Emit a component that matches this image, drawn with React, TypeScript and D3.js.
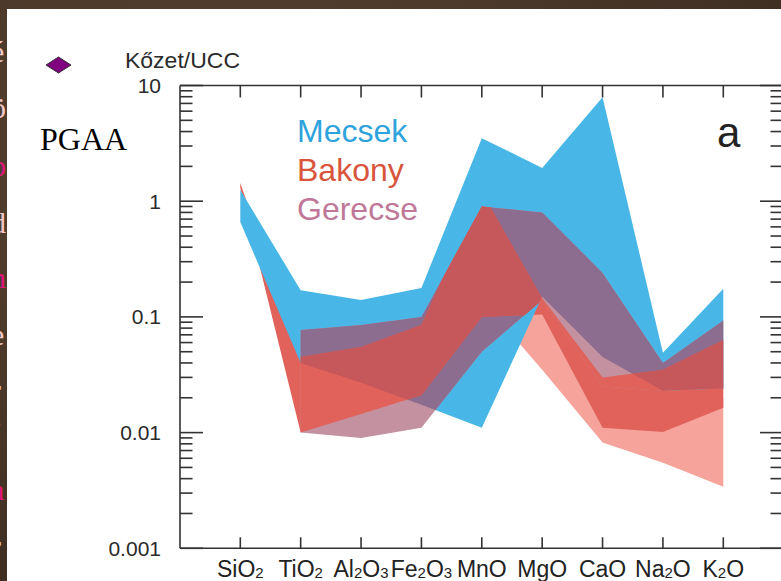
import React from "react";
import * as d3 from "d3";

const categories = ["SiO2", "TiO2", "Al2O3", "Fe2O3", "MnO", "MgO", "CaO", "Na2O", "K2O"];

// Mecsek band (blue)
const mecsekMax = [1.25, 0.17, 0.14, 0.178, 3.5, 1.94, 7.9, 0.049, 0.175];
const mecsekMin = [0.66, 0.04, 0.027, 0.0174, 0.011, 0.15, 0.045, 0.023, 0.024];
// Bakony band (red)
const bakonyMax = [1.44, 0.045, 0.055, 0.085, 1.2, 0.145, 0.03, 0.035, 0.063];
const bakonyMin = [1.3, 0.01, 0.0145, 0.021, 0.1, 0.105, 0.011, 0.0101, 0.0164];
// Bakony light band (salmon)
const bakony2Max: (number | null)[] = [null, null, null, null, 0.5, 0.14, 0.02, 0.015, 0.02];
const bakony2Min: (number | null)[] = [null, null, null, null, 0.14, 0.035, 0.0082, 0.0055, 0.0034];
// Gerecse band (purple)
const gerecseMax: (number | null)[] = [null, 0.077, 0.085, 0.1, 0.9, 0.8, 0.24, 0.04, 0.093];
const gerecseMin: (number | null)[] = [null, 0.01, 0.009, 0.011, 0.05, 0.14, 0.025, 0.023, 0.024];

const yTicks = [0.001, 0.01, 0.1, 1, 10];
const yTickLabels = ["0.001", "0.01", "0.1", "1", "10"];
const legendNames = ["Mecsek", "Bakony", "Gerecse"];
const legendColors = ["#2ea3dc", "#d8553c", "#bf7897"];
const sideLetters = [
  { t: "é", y: 62, c: "#f3c9c6" },
  { t: "ö", y: 118, c: "#f3c9c6" },
  { t: "b", y: 176, c: "#e0157a" },
  { t: "d", y: 233, c: "#f3c9c6" },
  { t: "n", y: 288, c: "#e0157a" },
  { t: "e", y: 345, c: "#f3c9c6" },
  { t: "r", y: 400, c: "#f3c9c6" },
  { t: "•", y: 435, c: "#f3c9c6" },
  { t: "a", y: 500, c: "#e0157a" },
  { t: "r", y: 556, c: "#f3c9c6" },
];

const W = 781;
const H = 581;
const left = 180;
const right = 783;
const top = 85.5;
const bottom = 548.3;

const x = d3.scalePoint<string>().domain(categories).range([240.3, 723.3]);
const y = d3.scaleLog().domain([0.001, 10]).range([bottom, top]);

function band(lo: (number | null)[], hi: (number | null)[]) {
  const data = categories.map((c, i) => ({ c, lo: lo[i], hi: hi[i] }));
  return (
    d3
      .area<{ c: string; lo: number | null; hi: number | null }>()
      .defined((d) => d.lo != null && d.hi != null)
      .x((d) => x(d.c) as number)
      .y0((d) => y(d.lo as number))
      .y1((d) => y(d.hi as number))(data) || ""
  );
}

const FONT = "'Liberation Sans', Arial, Helvetica, sans-serif";

function ChemLabel({ s, cx }: { s: string; cx: number }) {
  const parts: { t: string; sub: boolean }[] = [];
  for (const ch of s) {
    const sub = /[0-9]/.test(ch);
    const last = parts[parts.length - 1];
    if (last && last.sub === sub) last.t += ch;
    else parts.push({ t: ch, sub });
  }
  return (
    <text x={cx} y={577} textAnchor="middle" fontFamily={FONT} fontSize={23} fill="#222">
      {parts.map((p, i) =>
        p.sub ? (
          <tspan key={i} fontSize={15} dy={1}>
            {p.t}
          </tspan>
        ) : (
          <tspan key={i} dy={i > 0 ? -1 : 0}>
            {p.t}
          </tspan>
        )
      )}
    </text>
  );
}

export default function App() {
  const mPath = band(mecsekMin, mecsekMax);
  const bPath = band(bakonyMin, bakonyMax);
  const sPath = band(bakony2Min, bakony2Max);
  const gPath = band(gerecseMin, gerecseMax);

  const minor: number[] = [];
  for (let e = -3; e < 1; e++) {
    for (let m = 2; m <= 9; m++) minor.push(m * Math.pow(10, e));
  }

  return (
    <svg
      width={W}
      height={H}
      viewBox={`0 0 ${W} ${H}`}
      style={{ position: "absolute", left: 0, top: 0, display: "block" }}
    >
      <defs>
        <clipPath id="clipM">
          <path d={mPath} />
        </clipPath>
        <clipPath id="clipG">
          <path d={gPath} />
        </clipPath>
        <radialGradient id="bg" cx="0.3" cy="0.3" r="0.9">
          <stop offset="0" stopColor="#5a4533" />
          <stop offset="1" stopColor="#3a2b20" />
        </radialGradient>
      </defs>
      <rect x={0} y={0} width={W} height={H} fill="url(#bg)" />
      {sideLetters.map((l, i) => (
        <text
          key={i}
          x={-9}
          y={l.y}
          fontFamily="'Liberation Serif', 'Times New Roman', serif"
          fontSize={30}
          fill={l.c}
        >
          {l.t}
        </text>
      ))}
      <rect x={7} y={9} width={W - 7} height={H - 9} fill="#ffffff" />

      {/* bands */}
      <path d={sPath} fill="#f6a39b" />
      <path d={bPath} fill="#e0625b" />
      <path d={mPath} fill="#48b7e7" />
      <path d={gPath} fill="#c3919f" />
      <path d={gPath} fill="#8c6d8f" clipPath="url(#clipM)" />
      <path d={bPath} fill="#e0625b" clipPath="url(#clipG)" />
      <g clipPath="url(#clipM)">
        <path d={bPath} fill="#c6575a" clipPath="url(#clipG)" />
      </g>

      {/* frame */}
      <g stroke="#333" strokeWidth={1.6} fill="none">
        <line x1={left} y1={top} x2={right} y2={top} />
        <line x1={left} y1={bottom} x2={right} y2={bottom} />
        <line x1={left} y1={top} x2={left} y2={bottom} />
        <line x1={right} y1={top} x2={right} y2={bottom} />
        {yTicks.map((v) => (
          <g key={"M" + v}>
            <line x1={left} x2={left + 23} y1={y(v)} y2={y(v)} />
            <line x1={right} x2={right - 23} y1={y(v)} y2={y(v)} />
          </g>
        ))}
        {minor.map((v) => (
          <g key={"m" + v}>
            <line x1={left} x2={left + 12.5} y1={y(v)} y2={y(v)} />
            <line x1={right} x2={right - 12.5} y1={y(v)} y2={y(v)} />
          </g>
        ))}
        {categories.map((c) => (
          <g key={"t" + c}>
            <line x1={x(c)} x2={x(c)} y1={top} y2={top + 12} />
            <line x1={x(c)} x2={x(c)} y1={bottom} y2={bottom - 11} />
          </g>
        ))}
      </g>

      {/* y tick labels */}
      {yTicks.map((v, i) => (
        <text
          key={"yl" + v}
          x={161}
          y={y(v) + 7.5}
          textAnchor="end"
          fontFamily={FONT}
          fontSize={21}
          fill="#2a2a2a"
        >
          {yTickLabels[i]}
        </text>
      ))}

      {/* x labels */}
      {categories.map((c) => (
        <ChemLabel key={"xl" + c} s={c} cx={x(c) as number} />
      ))}

      {/* axis title */}
      <text x={125} y={68} fontFamily={FONT} fontSize={22} fill="#2a2a2a" textLength={115} lengthAdjust="spacingAndGlyphs">
        Kőzet/UCC
      </text>

      {/* legend */}
      {legendNames.map((n, i) => (
        <text
          key={n}
          x={297}
          y={142 + i * 38.8}
          fontFamily={FONT}
          fontSize={32}
          fill={legendColors[i]}
        >
          {n}
        </text>
      ))}

      <text x={717} y={147} fontFamily={FONT} fontSize={42} fill="#222">
        a
      </text>

      {/* diamond marker + PGAA */}
      <path d="M46,65 L58.5,57 L71,65 L58.5,73 Z" fill="#800080" stroke="#333" strokeWidth={1} />
      <text
        x={40}
        y={150}
        fontFamily="'Liberation Serif', 'Times New Roman', serif"
        fontSize={32}
        fill="#000"
      >
        PGAA
      </text>
    </svg>
  );
}
